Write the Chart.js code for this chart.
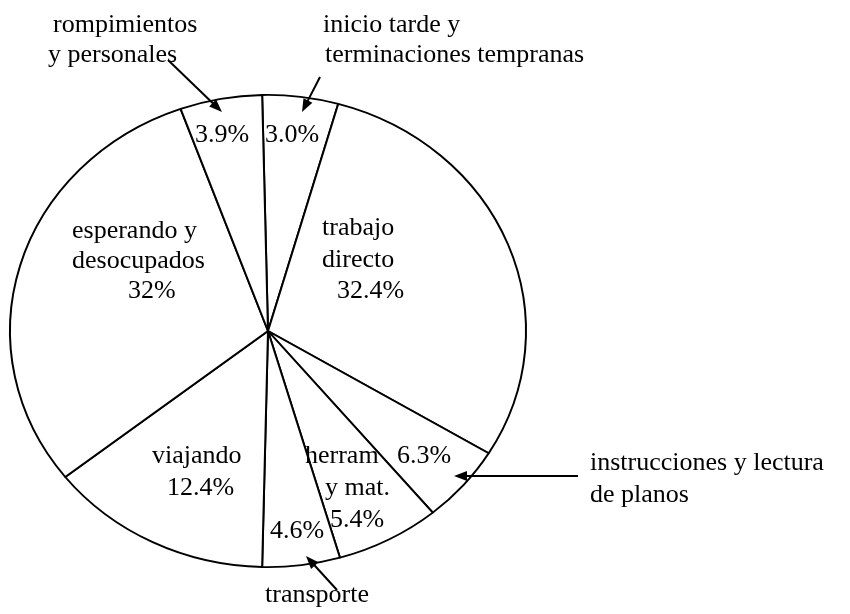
<!DOCTYPE html>
<html>
<head>
<meta charset="utf-8">
<script src="https://cdn.jsdelivr.net/npm/chart.js@4.4.0/dist/chart.umd.min.js"></script>
<style>
  html, body { margin: 0; padding: 0; background: #fff; }
</style>
</head>
<body>
<canvas id="distribucion" width="850" height="614"></canvas>
<script>
// Distribución del tiempo de la mano de obra (sentido horario desde arriba)
const categorias = [
    'inicio tarde y terminaciones tempranas',
    'trabajo directo',
    'instrucciones y lectura de planos',
    'herram y mat.',
    'transporte',
    'viajando',
    'esperando y desocupados',
    'rompimientos y personales'
];
// Tamaño de cada sector tal como está dibujado (grados)
const angulos = [17.1, 105.4, 19.1, 23.5, 17.5, 50.5, 108.4, 18.5];
// Porcentajes impresos en el dibujo
const porcentajes = ['3.0%', '32.4%', '6.3%', '5.4%', '4.6%', '12.4%', '32%', '3.9%'];

// El dibujo original es una elipse un poco achatada
const escalaY = 0.915;

const elipse = {
    id: 'elipse',
    beforeDatasetsDraw(chart) {
        const ctx = chart.ctx;
        const a = chart.chartArea;
        const cy = (a.top + a.bottom) / 2;
        ctx.save();
        ctx.translate(0, cy);
        ctx.scale(1, escalaY);
        ctx.translate(0, -cy);
    },
    afterDatasetsDraw(chart) {
        chart.ctx.restore();
    }
};

function flecha(ctx, x1, y1, x2, y2) {
    const ang = Math.atan2(y2 - y1, x2 - x1);
    const largo = 13, ancho = 5;
    ctx.beginPath();
    ctx.moveTo(x1, y1);
    ctx.lineTo(x2 - Math.cos(ang) * largo * 0.7, y2 - Math.sin(ang) * largo * 0.7);
    ctx.stroke();
    ctx.beginPath();
    ctx.moveTo(x2, y2);
    ctx.lineTo(x2 - Math.cos(ang) * largo - Math.sin(ang) * ancho, y2 - Math.sin(ang) * largo + Math.cos(ang) * ancho);
    ctx.lineTo(x2 - Math.cos(ang) * largo + Math.sin(ang) * ancho, y2 - Math.sin(ang) * largo - Math.cos(ang) * ancho);
    ctx.closePath();
    ctx.fill();
}

const rotulos = {
    id: 'rotulos',
    afterDraw(chart) {
        const ctx = chart.ctx;
        ctx.save();
        ctx.fillStyle = '#000';
        ctx.strokeStyle = '#000';
        ctx.lineWidth = 2;
        ctx.font = '26px "Liberation Serif", "DejaVu Serif", serif';
        ctx.textAlign = 'left';
        ctx.textBaseline = 'alphabetic';

        // textos exteriores
        ctx.fillText('rompimientos', 53, 32);
        ctx.fillText('y personales', 48, 62);
        ctx.fillText('inicio tarde y', 323, 32);
        ctx.fillText('terminaciones tempranas', 325, 62);
        ctx.fillText('instrucciones y lectura', 590, 470);
        ctx.fillText('de planos', 590, 502);
        ctx.fillText('transporte', 265, 602);

        // textos dentro de los sectores
        ctx.fillText(porcentajes[7], 195, 142);
        ctx.fillText(porcentajes[0], 265, 142);
        ctx.fillText('esperando y', 72, 238);
        ctx.fillText('desocupados', 72, 268);
        ctx.fillText(porcentajes[6], 128, 298);
        ctx.fillText('trabajo', 322, 235);
        ctx.fillText('directo', 322, 267);
        ctx.fillText(porcentajes[1], 337, 298);
        ctx.fillText('viajando', 152, 463);
        ctx.fillText(porcentajes[5], 167, 495);
        ctx.fillText('herram', 305, 463);
        ctx.fillText('y mat.', 325, 495);
        ctx.fillText(porcentajes[3], 330, 527);
        ctx.fillText(porcentajes[2], 397, 463);
        ctx.fillText(porcentajes[4], 270, 538);

        // flechas
        flecha(ctx, 168, 60, 222, 112);
        flecha(ctx, 320, 77, 302, 112);
        flecha(ctx, 578, 476, 454, 476);
        flecha(ctx, 337, 590, 306, 556);
        ctx.restore();
    }
};

const ctx = document.getElementById('distribucion').getContext('2d');

new Chart(ctx, {
    type: 'pie',
    data: {
        labels: categorias,
        datasets: [{
            data: angulos,
            backgroundColor: '#fff',
            borderColor: '#000',
            borderWidth: 2
        }]
    },
    options: {
        responsive: false,
        animation: false,
        events: [],
        rotation: -1.3,
        layout: {
            padding: { left: 9, right: 323, top: 72, bottom: 24 }
        },
        plugins: {
            legend: { display: false },
            tooltip: { enabled: false }
        }
    },
    plugins: [elipse, rotulos]
});
</script>
</body>
</html>
